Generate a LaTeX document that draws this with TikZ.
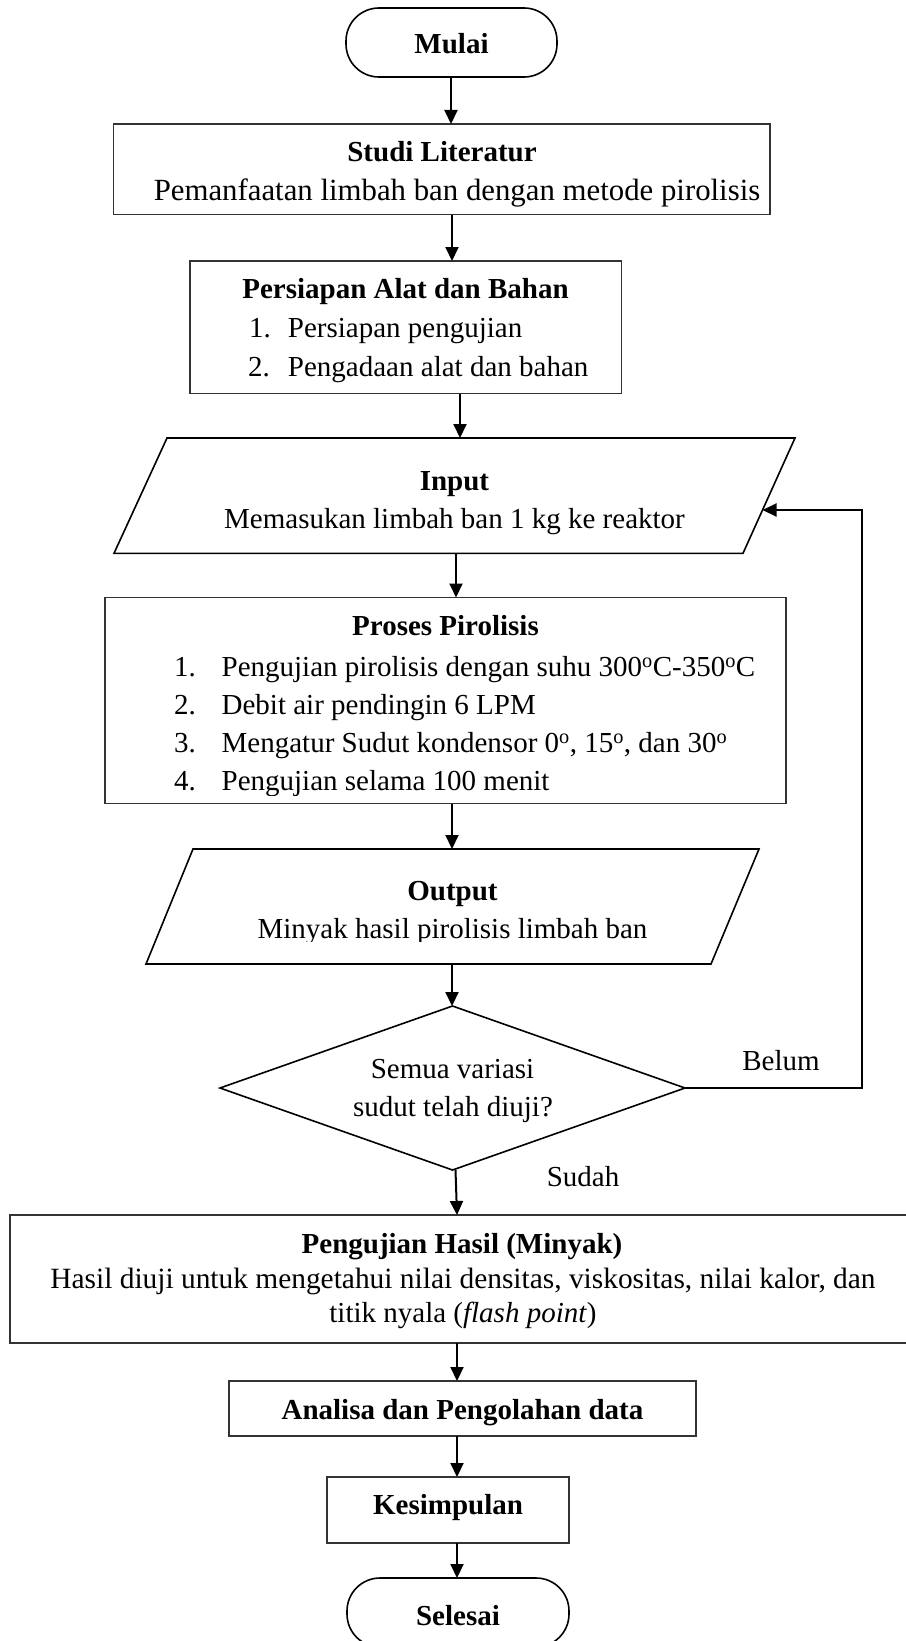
\documentclass[tikz,border=0pt]{standalone}
\usepackage{fontspec}
\setmainfont{Liberation Serif}
\usetikzlibrary{shapes.geometric,arrows.meta}
\begin{document}
\begin{tikzpicture}[x=1bp,y=-1bp,
  every node/.style={inner sep=0pt,outer sep=0pt},
  txt/.style={font=\fontsize{29bp}{35bp}\selectfont,anchor=base},
  btxt/.style={font=\fontsize{29bp}{35bp}\selectfont\bfseries,anchor=base},
  ltxt/.style={font=\fontsize{29bp}{35bp}\selectfont,anchor=base west},
  rbox/.style={draw=black!80,line width=1.2bp},
  term/.style={draw=black,line width=1.6bp,rounded corners=33bp},
  io/.style={draw=black,line width=1.6bp},
  dec/.style={diamond,draw=black,line width=1.6bp},
  arr/.style={-{Triangle[length=14bp,width=13bp]},line width=2bp,draw=black},
  fb/.style={line width=2bp,draw=black}
]
\fill[white] (0,0) rectangle (905,1641);
\useasboundingbox (0,0) rectangle (905,1641);

% ---------- shapes ----------
\node[term,minimum width=211bp,minimum height=69bp] (mulai) at (451.5,42.5) {};
\node[rbox,minimum width=656.5bp,minimum height=90.5bp] (studi) at (441.75,169.25) {};
\node[rbox,minimum width=431.5bp,minimum height=132.5bp] (pers) at (405.75,327.25) {};
\node[minimum width=629bp,minimum height=115.3bp] (inp) at (454.75,495.65) {};
\draw[io] (167,438) -- (795,438) -- (743,553.3) -- (114,553.3) -- cycle;
\node[rbox,minimum width=681bp,minimum height=206bp] (proses) at (445.5,700.5) {};
\node[minimum width=566bp,minimum height=115bp] (out) at (452.25,906.5) {};
\draw[io] (193,849) -- (759,849) -- (711,964) -- (146,964) -- cycle;
\node[dec,minimum width=465bp,minimum height=164bp] (dia) at (452.5,1088) {};
\node[rbox,minimum width=906bp,minimum height=128bp] (peng) at (463,1279) {};
\node[rbox,minimum width=467bp,minimum height=55bp] (anal) at (462.5,1408.5) {};
\node[rbox,minimum width=242bp,minimum height=66bp] (kes) at (448,1510) {};
\node[term,minimum width=222bp,minimum height=69bp] (sel) at (458,1612.5) {};
\coordinate (inpR) at (762.5,510);
\coordinate (fbR) at (862,1088);

% ---------- texts ----------
\node[btxt] (tMulai) at (451.5,53.5) {Mulai};
\node[btxt] (tStudi1) at (442,161.5) {Studi Literatur};
\node[txt,font=\fontsize{30.8bp}{36bp}\selectfont] (tStudi2) at (457,200) {Pemanfaatan limbah ban dengan metode pirolisis};
\node[btxt] (tPers1) at (405.5,298.5) {Persiapan Alat dan Bahan};
\node[ltxt] (tPers2) at (249,337.5) {\makebox[39bp][l]{1.}Persiapan pengujian};
\node[ltxt] (tPers3) at (248,376) {\makebox[40bp][l]{2.}Pengadaan alat dan bahan};
\node[btxt] (tInp1) at (454.5,490.3) {Input};
\node[txt] (tInp2) at (454.5,528.3) {Memasukan limbah ban 1 kg ke reaktor};
\node[btxt] (tPro1) at (445.5,635.8) {Proses Pirolisis};
\node[ltxt] (tPro2) at (174,676) {\makebox[47.7bp][l]{1.}Pengujian pirolisis dengan suhu 300\textsuperscript{o}C-350\textsuperscript{o}C};
\node[ltxt] (tPro3) at (174,714.5) {\makebox[47.7bp][l]{2.}Debit air pendingin 6 LPM};
\node[ltxt] (tPro4) at (174,752.5) {\makebox[47.7bp][l]{3.}Mengatur Sudut kondensor 0\textsuperscript{o}, 15\textsuperscript{o}, dan 30\textsuperscript{o}};
\begin{scope}
\clip (150,760) rectangle (700,795);
\node[ltxt] (tPro5) at (174,790.5) {\makebox[47.7bp][l]{4.}Pengujian selama 100 menit};
\end{scope}
\node[btxt] (tOut1) at (452.5,900.5) {Output};
\begin{scope}
\clip (150,905) rectangle (750,941);
\node[txt] (tOut2) at (452.5,938.5) {Minyak hasil pirolisis limbah ban};
\end{scope}
\node[txt] (tDia1) at (452.5,1078.5) {Semua variasi};
\node[txt] (tDia2) at (453,1116.5) {sudut telah diuji?};
\node[txt] (tBelum) at (781,1070) {Belum};
\node[txt] (tSudah) at (583,1186.5) {Sudah};
\node[btxt] (tPeng1) at (462,1253) {Pengujian Hasil (Minyak)};
\node[txt,font=\fontsize{29.4bp}{35bp}\selectfont] (tPeng2) at (463,1288) {Hasil diuji untuk mengetahui nilai densitas, viskositas, nilai kalor, dan};
\node[txt] (tPeng3) at (463,1322.5) {titik nyala (\textit{flash point})};
\node[btxt] (tAnal) at (462.5,1419) {Analisa dan Pengolahan data};
\node[btxt] (tKes) at (448,1514) {Kesimpulan};
\node[btxt] (tSel) at (458,1625) {Selesai};

% ---------- connectors ----------
\draw[arr] (mulai.south -| 451,0) -- (studi.north -| 451,0);
\draw[arr] (studi.south -| 452,0) -- (pers.north -| 452,0);
\draw[arr] (pers.south -| 460,0) -- (inp.north -| 460,0);
\draw[arr] (inp.south -| 456,0) -- (proses.north -| 456,0);
\draw[arr] (proses.south -| 452,0) -- (out.north -| 452,0);
\draw[arr] (out.south -| 452,0) -- (dia.north -| 452,0);
\draw[arr] (dia.south -| 455.5,0) -- (peng.north -| 457,0);
\draw[arr] (peng.south -| 457,0) -- (anal.north -| 457,0);
\draw[arr] (anal.south -| 457,0) -- (kes.north -| 457,0);
\draw[arr] (kes.south -| 457,0) -- (sel.north -| 457,0);
\draw[arr] (dia.east) -- (fbR) |- (inpR);
\end{tikzpicture}
\end{document}
